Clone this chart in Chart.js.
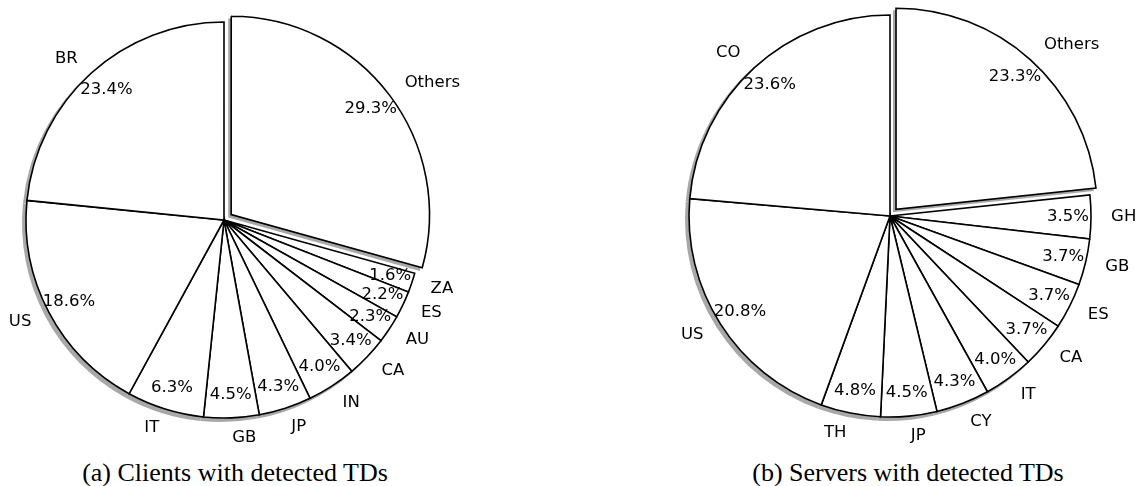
<!DOCTYPE html>
<html>
<head>
<meta charset="utf-8">
<script src="https://cdn.jsdelivr.net/npm/chart.js@4.4.1/dist/chart.umd.min.js"></script>
<style>
  body { margin: 0; background: #fff; width: 1137px; height: 486px; overflow: hidden; position: relative; }
  canvas { position: absolute; }
  .caption { position: absolute; font-family: "Liberation Serif", "Times New Roman", serif; font-size: 26px; color: #000; white-space: nowrap; transform: translate(-50%, -50%); }
</style>
</head>
<body>
<canvas id="clients" width="560" height="450" style="left:0;top:0"></canvas>
<canvas id="servers" width="537" height="450" style="left:600px;top:0"></canvas>
<div class="caption" style="left:235px;top:473px">(a) Clients with detected TDs</div>
<div class="caption" style="left:908px;top:473px">(b) Servers with detected TDs</div>
<script>
var clientLabels = ['Others', 'ZA', 'ES', 'AU', 'CA', 'IN', 'JP', 'GB', 'IT', 'US', 'BR'];
var clientShares = [29.3, 1.6, 2.2, 2.3, 3.4, 4.0, 4.3, 4.5, 6.3, 18.6, 23.4];

var serverLabels = ['Others', 'GH', 'GB', 'ES', 'CA', 'IT', 'CY', 'JP', 'TH', 'US', 'CO'];
var serverShares = [23.3, 3.5, 3.7, 3.7, 3.7, 4.0, 4.3, 4.5, 4.8, 20.8, 23.6];

// shadow under the wedges + the labels (name outside, percent inside)
var pieDecor = {
    id: 'pieDecor',
    beforeDatasetsDraw: function(chart) {
        var ctx = chart.ctx;
        var arcs = chart.getDatasetMeta(0).data;
        ctx.save();
        ctx.fillStyle = '#a8a8a8';
        arcs.forEach(function(arc) {
            var p = arc.getProps(['x', 'y', 'startAngle', 'endAngle', 'outerRadius']);
            var shift = (arc.options.offset || 0) / 4;
            var mid = (p.startAngle + p.endAngle) / 2;
            var cx = p.x + Math.cos(mid) * shift - 3;
            var cy = p.y + Math.sin(mid) * shift + 3;
            ctx.beginPath();
            ctx.moveTo(cx, cy);
            ctx.arc(cx, cy, p.outerRadius + 1, p.startAngle, p.endAngle);
            ctx.closePath();
            ctx.fill();
        });
        ctx.restore();
    },
    afterDatasetsDraw: function(chart) {
        var ctx = chart.ctx;
        var arcs = chart.getDatasetMeta(0).data;
        var values = chart.data.datasets[0].data;
        ctx.save();
        ctx.fillStyle = '#000';
        ctx.font = '16.5px "DejaVu Sans"';
        ctx.textBaseline = 'middle';
        arcs.forEach(function(arc, i) {
            var p = arc.getProps(['x', 'y', 'startAngle', 'endAngle', 'outerRadius']);
            var shift = (arc.options.offset || 0) / 4;
            var mid = (p.startAngle + p.endAngle) / 2;
            var c = Math.cos(mid), s = Math.sin(mid);
            var cx = p.x + c * shift;
            var cy = p.y + s * shift;
            var r = p.outerRadius;
            ctx.textAlign = 'center';
            ctx.fillText(values[i].toFixed(1) + '%', cx + c * r * 0.885, cy + s * r * 0.885);
            ctx.textAlign = c > 0 ? 'left' : 'right';
            ctx.fillText(chart.data.labels[i], cx + c * r * 1.1, cy + s * r * 1.1);
        });
        ctx.restore();
    }
};

function build_pie(id, labels, shares, radius, padding) {
    var offsets = shares.map(function(v, i) { return i == 0 ? 36 : 0; });
    var config = {
        type: 'pie',
        data: {
            labels: labels,
            datasets: [{
                data: shares,
                backgroundColor: '#ffffff',
                borderColor: '#000000',
                borderWidth: 1.6,
                borderJoinStyle: 'miter',
                offset: offsets,
                clip: false
            }]
        },
        options: {
            responsive: false,
            animation: false,
            events: [],
            radius: radius,
            layout: { padding: padding },
            plugins: {
                legend: { display: false },
                tooltip: { enabled: false }
            }
        },
        plugins: [pieDecor]
    };
    return new Chart(document.getElementById(id).getContext('2d'), config);
}

window.onload = function() {
    build_pie('clients', clientLabels, clientShares, 198, { left: 0, top: 0, right: 112, bottom: 10 });
    build_pie('servers', serverLabels, serverShares, 201, { left: 80, top: 0, right: 37, bottom: 18 });
};
</script>
</body>
</html>
